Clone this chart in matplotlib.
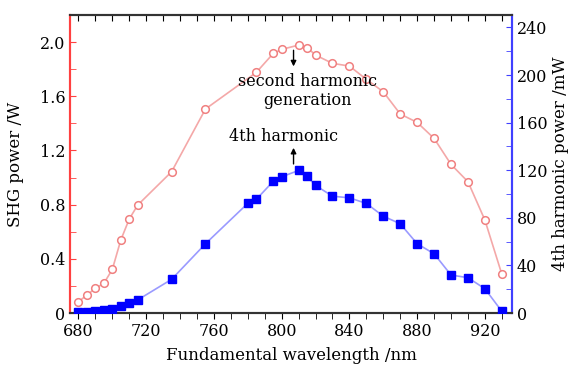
import matplotlib
matplotlib.use("Agg")
import matplotlib.pyplot as plt
from matplotlib.ticker import MultipleLocator, FuncFormatter, NullFormatter

shg_wl = [680, 685, 690, 695, 700, 705, 710, 715, 735, 755, 785, 795, 800,
          810, 815, 820, 830, 840, 850, 860, 870, 880, 890, 900, 910, 920, 930]
shg_power = [0.083, 0.133, 0.182, 0.219, 0.322, 0.539, 0.694, 0.797, 1.043,
             1.506, 1.776, 1.916, 1.946, 1.978, 1.960, 1.904, 1.843, 1.823,
             1.725, 1.633, 1.469, 1.407, 1.289, 1.097, 0.969, 0.686, 0.286]

fh_wl = [680, 685, 690, 695, 700, 705, 710, 715, 735, 755, 780, 785, 795, 800,
         810, 815, 820, 830, 840, 850, 860, 870, 880, 890, 900, 910, 920, 930]
fh_power = [1.0, 1.0, 1.5, 2.5, 3.4, 5.9, 8.2, 11.0, 28.3, 58.2, 92.2, 95.5,
            110.7, 114.5, 119.8, 115.0, 107.2, 98.2, 96.8, 92.1, 81.4, 75.0,
            58.2, 49.8, 31.9, 29.7, 20.4, 1.4]

plt.rcParams['font.family'] = ['DejaVu Serif']
fig = plt.figure(figsize=(5.74, 3.67), dpi=100)
ax = fig.add_axes([70/574, 1-313/367, (512-70)/574, (313-15)/367])
ax2 = ax.twinx()

ax.plot(shg_wl, shg_power, '-', color='#f4a8a8', lw=1.2, zorder=2)
ax.plot(shg_wl, shg_power, 'o', mfc='white', mec='#f08080', ms=5.5, mew=1.1, zorder=3)
ax2.plot(fh_wl, fh_power, '-', color='#9a9aff', lw=1.2, zorder=2)
ax2.plot(fh_wl, fh_power, 's', color='#0000ff', ms=5.5, zorder=3)

ax.set_xlim(675, 936)
ax.set_ylim(0, 2.2)
ax2.set_ylim(0, 250.5)

ax.xaxis.set_major_locator(MultipleLocator(40))
ax.xaxis.set_minor_locator(MultipleLocator(10))
ax.yaxis.set_major_locator(MultipleLocator(0.4))
ax.yaxis.set_minor_locator(MultipleLocator(0.2))
ax2.yaxis.set_major_locator(MultipleLocator(40))
ax2.yaxis.set_minor_locator(MultipleLocator(20))
ax.yaxis.set_major_formatter(FuncFormatter(lambda v, p: '0' if abs(v) < 1e-9 else f'{v:.1f}'))

fs = 11.5
ax.tick_params(axis='x', which='both', direction='out', top=False, labelsize=fs, pad=3, length=4)
ax.tick_params(axis='y', which='both', direction='in', labelsize=fs, color='#ff4040', length=4)
ax2.tick_params(axis='y', which='both', direction='in', labelsize=fs, color='#4040ff', length=4)

top = ax.secondary_xaxis('top')
top.xaxis.set_major_locator(MultipleLocator(10))
top.xaxis.set_major_formatter(NullFormatter())
top.tick_params(axis='x', which='both', direction='in', length=4)
top.spines['top'].set_visible(False)

for sp in ['top', 'bottom']:
    for a in (ax, ax2):
        a.spines[sp].set_color('#333333')
        a.spines[sp].set_linewidth(1.5)
for a in (ax, ax2):
    a.spines['left'].set_color('#ff4040')
    a.spines['left'].set_linewidth(1.5)
    a.spines['right'].set_color('#4040ff')
    a.spines['right'].set_linewidth(1.5)

ax.set_xlabel('Fundamental wavelength /nm', fontsize=fs+0.5, labelpad=5)
ax.set_ylabel('SHG power /W', fontsize=fs+0.5, labelpad=11)
ax2.set_ylabel('4th harmonic power /mW', fontsize=fs+0.5, labelpad=3)

ax.annotate('', xy=(807, 1.80), xytext=(807, 1.96),
            arrowprops=dict(arrowstyle='-|>', color='black', lw=1, mutation_scale=8))
ax.text(815, 1.64, 'second harmonic\ngeneration', ha='center', va='center',
        fontsize=fs, linespacing=1.15)
ax.text(801, 1.30, '4th harmonic', ha='center', va='center', fontsize=fs)
ax.annotate('', xy=(807, 1.24), xytext=(807, 1.08),
            arrowprops=dict(arrowstyle='-|>', color='black', lw=1, mutation_scale=8))

fig.savefig('out.png', dpi=100)
